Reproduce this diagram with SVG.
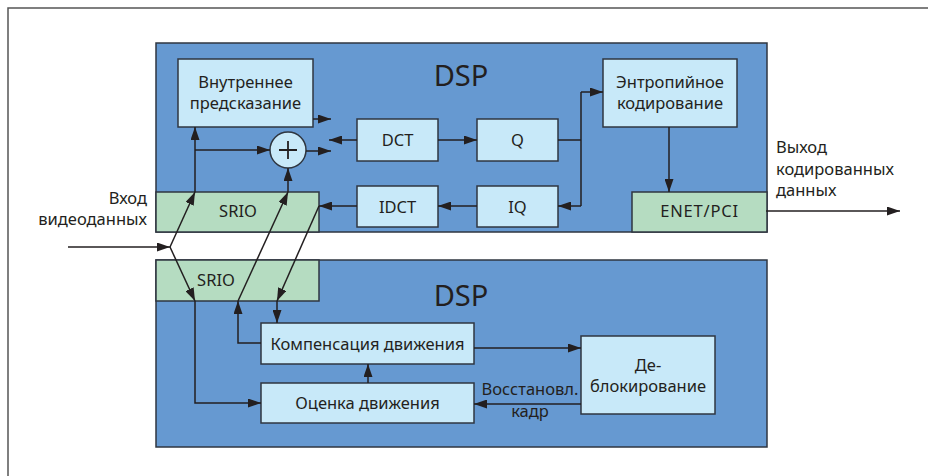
<svg xmlns="http://www.w3.org/2000/svg" width="928" height="476" viewBox="0 0 928 476">
<style>
.dsp{fill:#6699d1;stroke:#2f3640;stroke-width:1.5}
.blk{fill:#c8e9f9;stroke:#2f3640;stroke-width:1.5}
.grn{fill:#b5dcc1;stroke:#2f3640;stroke-width:1.5}
text{font-family:"Noto Sans","DejaVu Sans",sans-serif;fill:#231f20;font-size:16.5px}
.c{text-anchor:middle}
.big{font-size:29px}
.cn path,.cn polyline,.cn line{fill:none;stroke:#231f20;stroke-width:1.5;marker-end:url(#a)}
.cn .n{marker-end:none}
.frame{fill:none;stroke:#555;stroke-width:1.5}
</style>
<defs>
<marker id="a" markerUnits="userSpaceOnUse" markerWidth="13" markerHeight="9" refX="13" refY="4.5" orient="auto">
<path d="M0,0 L13,4.5 L0,9 z" fill="#231f20"/>
</marker>
</defs>
<rect width="928" height="476" fill="#fff"/>
<path class="frame" d="M8,476 V8 H928"/>

<g id="dsp-top">
<rect class="dsp" x="156" y="43" width="611" height="189"/>
<text class="big" x="461" y="86" text-anchor="middle">DSP</text>
</g>
<g id="dsp-bottom">
<rect class="dsp" x="156" y="260" width="611" height="187"/>
<text class="big" x="461" y="306" text-anchor="middle">DSP</text>
</g>

<g id="intra">
<rect class="blk" x="178" y="59" width="135" height="68"/>
<text class="c" x="245.5" y="88">Внутреннее</text>
<text class="c" x="245.5" y="109">предсказание</text>
</g>
<g id="sum">
<circle class="blk" cx="288" cy="150" r="18"/>
<path d="M279,150 H297 M288,141 V159" stroke="#231f20" stroke-width="1.8" fill="none"/>
</g>
<g id="dct">
<rect class="blk" x="357" y="119" width="81" height="42"/>
<text class="c" x="397.5" y="146">DCT</text>
</g>
<g id="q">
<rect class="blk" x="477" y="119" width="81" height="42"/>
<text class="c" x="517.5" y="146">Q</text>
</g>
<g id="idct">
<rect class="blk" x="357" y="186" width="81" height="41"/>
<text class="c" x="397.5" y="213">IDCT</text>
</g>
<g id="iq">
<rect class="blk" x="477" y="186" width="81" height="41"/>
<text class="c" x="517.5" y="213">IQ</text>
</g>
<g id="entropy">
<rect class="blk" x="603" y="59" width="134" height="68"/>
<text class="c" x="670" y="88">Энтропийное</text>
<text class="c" x="670" y="109">кодирование</text>
</g>
<g id="srio-top">
<rect class="grn" x="156" y="192" width="163" height="40"/>
<text class="c" x="238" y="217">SRIO</text>
</g>
<g id="enet">
<rect class="grn" x="632" y="192" width="135" height="40"/>
<text class="c" x="699.5" y="217" letter-spacing="0.8">ENET/PCI</text>
</g>
<g id="srio-bottom">
<rect class="grn" x="156" y="260" width="163" height="41"/>
<text class="c" x="216" y="286">SRIO</text>
</g>
<g id="mc">
<rect class="blk" x="261" y="323" width="213" height="41"/>
<text class="c" x="367.5" y="350">Компенсация движения</text>
</g>
<g id="me">
<rect class="blk" x="261" y="383" width="213" height="40"/>
<text class="c" x="367.5" y="409">Оценка движения</text>
</g>
<g id="deblock">
<rect class="blk" x="581" y="336" width="134" height="78"/>
<text class="c" x="648" y="371">Де-</text>
<text class="c" x="648" y="392">блокирование</text>
</g>

<g id="labels">
<text x="147" y="204" text-anchor="end">Вход</text>
<text x="147" y="225" text-anchor="end">видеоданных</text>
<text x="776" y="153">Выход</text>
<text x="776" y="175">кодированных</text>
<text x="776" y="196">данных</text>
<text x="530" y="395" text-anchor="middle">Восстановл.</text>
<text x="530" y="417" text-anchor="middle">кадр</text>
</g>

<g id="connectors" class="cn">
<line x1="68" y1="247" x2="170" y2="247"/>
<line x1="170" y1="247" x2="195" y2="192"/>
<line x1="195" y1="192" x2="195" y2="127"/>
<line x1="195" y1="150" x2="270" y2="150"/>
<line x1="170" y1="247" x2="195" y2="301"/>
<polyline points="195,301 195,403 261,403"/>
<line x1="313" y1="119" x2="331" y2="119"/>
<line x1="306" y1="151" x2="331" y2="151"/>
<line x1="357" y1="140" x2="329" y2="140"/>
<line x1="438" y1="140" x2="477" y2="140"/>
<path class="n" d="M558,140 H581 M581,92 V206"/>
<line x1="581" y1="92" x2="603" y2="92"/>
<line x1="581" y1="206" x2="558" y2="206"/>
<line x1="477" y1="206" x2="438" y2="206"/>
<line x1="357" y1="206" x2="319" y2="206"/>
<line x1="319" y1="206" x2="277" y2="301"/>
<line x1="277" y1="301" x2="277" y2="323"/>
<polyline points="261,343 238,343 238,301"/>
<line x1="238" y1="301" x2="288" y2="192"/>
<line x1="288" y1="192" x2="288" y2="168"/>
<line x1="669" y1="127" x2="669" y2="192"/>
<line x1="766" y1="211" x2="900" y2="211"/>
<line x1="368" y1="383" x2="368" y2="364"/>
<line x1="474" y1="348" x2="581" y2="348"/>
<line x1="581" y1="404" x2="474" y2="404"/>
</g>
</svg>
